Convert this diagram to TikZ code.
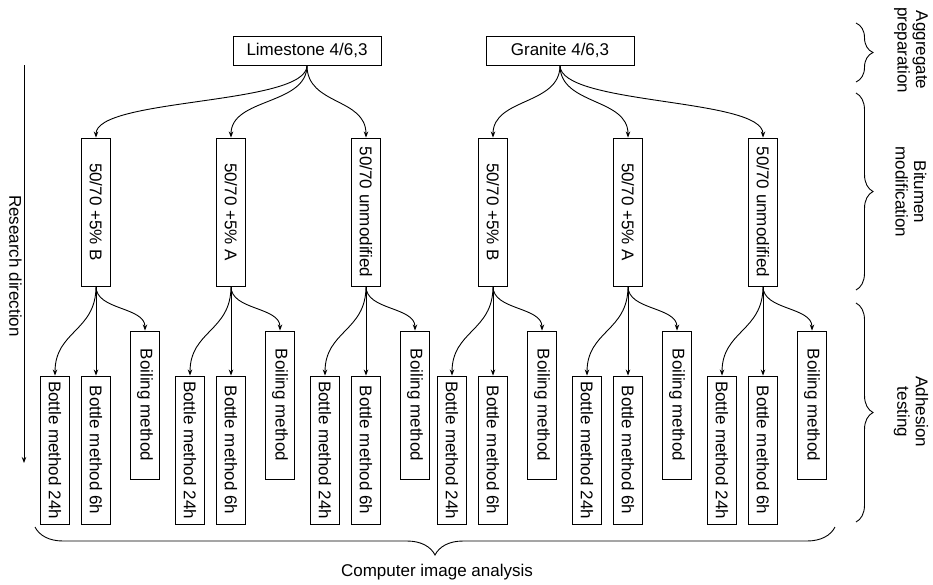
\documentclass[tikz,border=0pt]{standalone}
\usepackage{fontspec}
\setmainfont{Liberation Sans}
\usetikzlibrary{arrows.meta,decorations.pathreplacing}
\begin{document}
\begin{tikzpicture}[x=1pt,y=-1pt,
  txt/.style={font=\fontsize{17}{18.5}\selectfont},
  hbox/.style={txt, draw, line width=0.9pt, minimum width=148pt, minimum height=29pt, inner sep=0pt},
  vbox/.style={txt, draw, line width=0.9pt, minimum width=29pt, minimum height=148pt, inner sep=0pt},
  arr/.style={-{Stealth[length=6pt,width=4.5pt]}, line width=0.9pt},
  lbl/.style={txt, align=center, rotate=-90, inner sep=0pt},
  brc/.style={decorate, decoration={brace, amplitude=#1}, line width=0.9pt}
]
\useasboundingbox (0,0) rectangle (933,584);

% top level
\node[hbox] (L) at (307,50.5) {Limestone 4/6,3};
\node[hbox] (G) at (560,50.5) {Granite 4/6,3};

% bitumen level
\node[vbox] (L1) at (96,212)  {\rotatebox{-90}{50/70 +5\% B}};
\node[vbox] (L2) at (231,212) {\rotatebox{-90}{50/70 +5\% A}};
\node[vbox] (L3) at (366,212) {\rotatebox{-90}{50/70 unmodified}};
\node[vbox] (G1) at (493,212) {\rotatebox{-90}{50/70 +5\% B}};
\node[vbox] (G2) at (628,212) {\rotatebox{-90}{50/70 +5\% A}};
\node[vbox] (G3) at (763,212) {\rotatebox{-90}{50/70 unmodified}};

\foreach \p/\c in {L/L1,L/L2,L/L3,G/G1,G/G2,G/G3}
  \draw[arr] (\p.south) .. controls +(0,40) and +(0,-40) .. (\c.north);

% adhesion level
\foreach \g/\x in {L1/96,L2/231,L3/366,G1/493,G2/628,G3/763} {
  \node[vbox] (\g a) at ({\x-41},450) {\rotatebox{-90}{Bottle method 24h}};
  \node[vbox] (\g b) at (\x,450) {\rotatebox{-90}{Bottle method 6h}};
  \node[vbox] (\g c) at ({\x+49},405) {\rotatebox{-90}{Boiling method}};
  \draw[arr] (\g.south) .. controls +(0,45) and +(0,-45) .. (\g a.north);
  \draw[arr] (\g.south) -- (\g b.north);
  \draw[arr] (\g.south) .. controls +(0,24) and +(0,-24) .. (\g c.north);
}

% research direction
\coordinate (rdtop) at (24,65);
\coordinate (rdbot) at (24,463);
\draw[arr] (rdtop) -- (rdbot);
\node[lbl] (rd) at (15.5,266) {Research direction};

% right braces
\coordinate (b1t) at (856,23);  \coordinate (b1b) at (856,82);
\coordinate (b2t) at (856,93);  \coordinate (b2b) at (856,290);
\coordinate (b3t) at (856,303); \coordinate (b3b) at (856,522);
\draw[brc=17pt] (b1t) -- (b1b);
\draw[brc=17pt] (b2t) -- (b2b);
\draw[brc=17pt] (b3t) -- (b3b);
\node[lbl] (agg) at (911,50)  {Aggregate\\preparation};
\node[lbl] (bit) at (911,192) {Bitumen\\modification};
\node[lbl] (adh) at (911,412) {Adhesion\\testing};

% bottom brace
\coordinate (b4r) at (835,527); \coordinate (b4l) at (35,527);
\draw[brc=28pt] (b4r) -- (b4l);
\node[txt, inner sep=0pt] (cia) at (437,572) {Computer image analysis};
\end{tikzpicture}
\end{document}
